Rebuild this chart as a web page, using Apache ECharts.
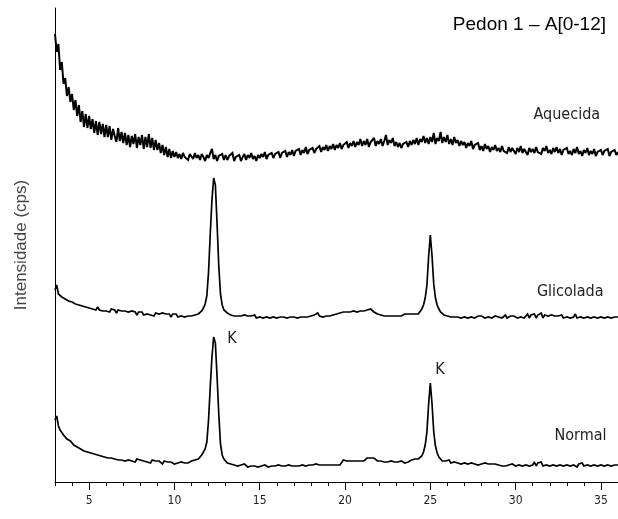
<!DOCTYPE html>
<html>
<head>
<meta charset="utf-8">
<script src="https://cdn.jsdelivr.net/npm/echarts@6/dist/echarts.min.js"></script>
<style>
html,body{margin:0;padding:0;background:#fff;}
#chart{width:618px;height:519px;}
</style>
</head>
<body>
<div id="chart"></div>
<script>
// ---- Data (2θ from 3.0° to 36.0°, step 0.1°) ----
const START_2THETA = 3.0;
const STEP_2THETA = 0.1;

const majorTicks = [5, 10, 15, 20, 25, 30, 35];
const minorTicks = [3, 4, 6, 7, 8, 9, 11, 12, 13, 14, 16, 17, 18, 19, 21, 22, 23, 24, 26, 27, 28, 29, 31, 32, 33, 34, 36];

const aquecida = [
  448,430,438,412,420,398,404,386,395,380,
  388,372,382,366,377,360,371,355,368,354,
  366,353,363,349,361,347,360,348,358,345,
  357,345,356,342,353,346,340,354,341,350,
  339,349,337,347,335,346,338,348,334,345,
  337,347,333,345,335,348,334,344,332,342,
  332,339,329,337,327,335,325,333,324,331,
  325,330,324,328,323,329,325,327,322,328,
  326,323,329,324,327,322,328,325,321,327,
  324,329,333,323,327,321,326,324,328,322,
  327,322,326,324,329,321,325,323,327,321,
  325,328,322,327,324,329,323,326,321,327,
  324,328,325,330,323,327,325,329,324,328,
  326,330,324,329,327,331,325,330,327,332,
  326,331,329,333,327,332,329,335,328,332,
  330,334,329,333,331,336,330,335,332,337,
  331,336,333,338,332,337,334,339,333,337,
  335,340,334,339,336,341,335,340,337,343,
  336,341,337,343,335,340,338,344,336,341,
  338,343,336,341,347,337,342,339,344,336,
  340,335,339,334,338,336,340,335,341,337,
  342,338,344,337,343,340,346,339,344,338,
  345,340,349,338,344,341,350,339,345,340,
  347,338,343,337,345,339,342,336,341,337,
  340,334,339,336,341,333,337,335,339,332,
  336,331,338,333,336,330,335,332,337,331,
  334,330,336,331,333,329,335,330,334,331,
  328,334,330,336,329,333,331,327,334,330,
  333,329,335,330,332,328,334,331,336,329,
  332,328,334,330,335,329,333,327,332,330,
  334,328,331,327,333,329,335,328,331,326,
  332,329,334,327,331,328,333,326,330,328,
  332,327,331,329,333,326,330,328,332,327,
  330
];

const glicolada = [
  192,197,188,189,185,187,183,185,181,183,
  180,182,178,180,177,179,176,178,175,177,
  174,176,173,175,172,175,172,174,171,173,
  171,173,170,173,171,172,169,172,170,171,
  169,171,169,170,168,171,169,170,167,170,
  168,170,167,169,168,170,167,169,166,169,
  167,168,166,169,167,168,166,168,165,168,
  166,168,165,167,166,168,165,167,166,168,
  166,168,167,169,168,170,171,174,178,186,
  210,248,282,304,297,258,216,188,177,172,
  170,169,168,167,168,166,167,166,165,166,
  165,167,165,166,164,166,165,167,164,166,
  165,166,164,166,165,167,164,166,165,166,
  164,166,165,167,165,166,164,166,165,167,
  165,166,164,166,165,167,165,166,165,167,
  166,165,167,166,169,166,167,165,167,166,
  165,166,165,167,166,168,167,169,168,170,
  169,170,168,170,169,171,169,170,169,171,
  170,171,170,172,171,173,171,170,169,168,
  169,167,168,166,167,166,168,166,167,166,
  167,166,168,166,167,168,166,168,167,168,
  169,168,170,168,170,173,177,184,197,225,
  247,226,198,184,177,173,170,168,167,168,
  166,167,165,166,165,167,165,166,164,166,
  165,166,164,166,165,166,164,165,166,164,
  166,165,164,166,165,167,164,165,166,164,
  165,166,164,165,167,164,165,166,164,166,
  165,164,166,165,167,164,166,168,164,167,
  165,168,164,167,165,169,164,167,165,166,
  164,167,165,166,164,166,165,167,164,166,
  165,167,164,166,165,168,164,166,165,167,
  164,166,165,167,164,166,165,167,164,166,
  165,167,164,166,165,167,164,166,165,166,
  165
];

const normal = [
  62,66,56,52,50,47,46,43,44,41,
  40,37,38,35,36,33,34,31,33,30,
  31,29,30,28,29,27,28,26,28,25,
  27,24,26,24,25,23,25,22,24,22,
  23,21,23,22,24,21,22,20,23,21,
  22,20,21,23,20,21,19,22,20,21,
  19,21,20,18,21,19,20,18,20,19,
  18,20,19,17,20,18,19,21,19,20,
  21,20,22,21,23,25,27,29,33,40,
  62,95,125,145,139,105,68,38,27,23,
  21,19,20,18,19,17,18,16,18,17,
  16,18,17,15,17,16,18,16,17,15,
  17,16,15,17,16,15,17,16,14,16,
  15,17,15,16,14,16,15,17,15,16,
  15,16,14,16,15,17,15,16,15,17,
  16,17,16,18,16,17,16,17,16,17,
  16,17,16,17,16,17,16,17,18,22,
  23,21,22,21,22,21,22,21,22,21,
  22,21,22,24,25,24,25,24,23,21,
  20,21,19,20,19,20,19,21,19,20,
  19,20,19,21,20,19,21,20,21,22,
  21,23,22,23,24,26,30,37,50,78,
  99,78,50,36,29,25,23,21,20,21,
  20,22,19,21,20,22,19,21,18,20,
  19,21,18,20,19,21,18,19,17,19,
  18,17,19,17,18,16,18,17,18,16,
  17,18,16,17,16,18,17,16,18,17,
  16,18,17,19,16,18,17,19,16,18,
  17,20,16,19,17,20,16,18,17,19,
  16,18,17,19,16,18,17,19,16,18,
  17,19,16,18,17,19,15,18,17,19,
  16,18,17,19,16,18,17,19,16,18,
  17,19,16,18,17,19,16,18,17,18,
  17
];

const twoTheta = aquecida.map((_, i) => +(START_2THETA + i * STEP_2THETA).toFixed(1));
const toPairs = arr => arr.map((v, i) => [twoTheta[i], v]);

const labelFont = "'DejaVu Sans Condensed', 'DejaVu Sans', sans-serif";
const tickFont = "'DejaVu Sans Condensed', 'DejaVu Sans', sans-serif";

function annot(text, coord, size) {
  return {
    coord: coord,
    symbol: 'circle',
    symbolSize: 1,
    itemStyle: { color: 'rgba(0,0,0,0)' },
    label: { show: true, position: 'inside', formatter: text, color: '#222', fontSize: size, fontFamily: labelFont }
  };
}

function lineSeries(name, arr, width, marks) {
  return {
    name: name,
    type: 'line',
    data: toPairs(arr),
    showSymbol: false,
    symbol: 'none',
    lineStyle: { color: '#000', width: width, join: 'miter', miterLimit: 2 },
    itemStyle: { color: '#000' },
    animation: false,
    silent: true,
    markPoint: { silent: true, animation: false, data: marks }
  };
}

const chart = echarts.init(document.getElementById('chart'), null, { renderer: 'canvas' });
chart.setOption({
  backgroundColor: '#fff',
  animation: false,
  title: {
    text: 'Pedon 1 – A[0-12]',
    right: 7,
    top: 10,
    textStyle: { fontFamily: "'Liberation Sans', Arial, sans-serif", fontSize: 19, fontWeight: 'normal', color: '#000' }
  },
  grid: { left: 55, right: 0, top: 8, bottom: 37, containLabel: false },
  xAxis: [
    {
      type: 'value', min: 3, max: 36,
      axisLine: { show: true, onZero: false, lineStyle: { color: '#000', width: 1 } },
      axisTick: { show: true, customValues: majorTicks, length: 8, inside: false, lineStyle: { color: '#000' } },
      axisLabel: { show: true, customValues: majorTicks, color: '#222', fontSize: 12, fontFamily: tickFont, margin: 13 },
      splitLine: { show: false }
    },
    {
      type: 'value', min: 3, max: 36, position: 'bottom',
      axisLine: { show: false },
      axisTick: { show: true, customValues: minorTicks, length: 4, inside: false, lineStyle: { color: '#000' } },
      axisLabel: { show: false },
      splitLine: { show: false }
    }
  ],
  yAxis: {
    type: 'value', min: 0, max: 474,
    name: 'Intensidade (cps)',
    nameLocation: 'middle',
    nameRotate: 90,
    nameGap: 25,
    nameTextStyle: { fontFamily: "'Liberation Sans', Arial, sans-serif", fontSize: 17, color: '#444' },
    axisLine: { show: true, lineStyle: { color: '#000', width: 1 } },
    axisTick: { show: false },
    axisLabel: { show: false },
    splitLine: { show: false }
  },
  series: [
    lineSeries('Aquecida', aquecida, 2, [annot('Aquecida', [33.0, 367], 16)]),
    lineSeries('Glicolada', glicolada, 1.7, [annot('Glicolada', [33.2, 190], 16)]),
    lineSeries('Normal', normal, 1.7, [annot('Normal', [33.8, 46], 16), annot('K', [13.37, 143], 16), annot('K', [25.57, 112], 16)])
  ]
});
</script>
</body>
</html>
